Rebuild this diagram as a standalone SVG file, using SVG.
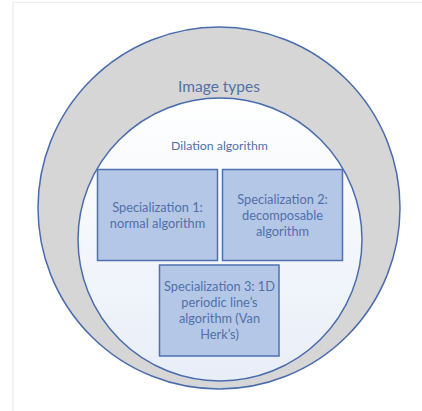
<svg xmlns="http://www.w3.org/2000/svg" width="422" height="411" viewBox="0 0 422 411">
  <defs>
    <linearGradient id="innerFill" x1="0" y1="0" x2="0" y2="1">
      <stop offset="0" stop-color="#ffffff"/>
      <stop offset="1" stop-color="#e8eef8"/>
    </linearGradient>
  </defs>
  <style>
    .ring { stroke: #4a6cae; stroke-width: 1.5; }
    .box { fill: #b4c7e7; stroke: #4e71b0; stroke-width: 1.5; }
    .lbl { font-family: Lato, "Open Sans", "Liberation Sans", sans-serif; fill: #5270a8; text-anchor: middle; }
    .big { font-size: 15.5px; }
    .mid { font-size: 12.3px; }
    .box-t { font-size: 12.8px; }
  </style>

  <rect x="0" y="0" width="422" height="411" fill="#ffffff"/>
  <!-- page frame -->
  <path d="M13 411 V2.5 H422" fill="none" stroke="#ececec" stroke-width="1.2"/>

  <g id="image-types">
    <circle class="ring" cx="219" cy="208" r="181" fill="#d6d6d6"/>
    <text class="lbl big" x="219" y="92">Image types</text>
  </g>

  <g id="dilation-algorithm">
    <ellipse class="ring" cx="220" cy="239.5" rx="142" ry="141.5" fill="url(#innerFill)"/>
    <text class="lbl mid" x="219.5" y="150">Dilation algorithm</text>
  </g>

  <g id="spec1">
    <rect class="box" x="97.5" y="169.5" width="120" height="91"/>
    <text class="lbl box-t" x="157.5" y="211.5">Specialization 1:</text>
    <text class="lbl box-t" x="157.5" y="227.5">normal algorithm</text>
  </g>

  <g id="spec2">
    <rect class="box" x="222.5" y="169.5" width="120" height="91"/>
    <text class="lbl box-t" x="282.5" y="203.5">Specialization 2:</text>
    <text class="lbl box-t" x="282.5" y="219.5">decomposable</text>
    <text class="lbl box-t" x="282.5" y="235.5">algorithm</text>
  </g>

  <g id="spec3">
    <rect class="box" x="159.5" y="265" width="119.5" height="91"/>
    <text class="lbl box-t" x="219.5" y="290.5">Specialization 3: 1D</text>
    <text class="lbl box-t" x="219.5" y="306.5">periodic line’s</text>
    <text class="lbl box-t" x="219.5" y="322.5">algorithm (Van</text>
    <text class="lbl box-t" x="219.5" y="338.5">Herk’s)</text>
  </g>

  <g id="connectors"/>
</svg>
